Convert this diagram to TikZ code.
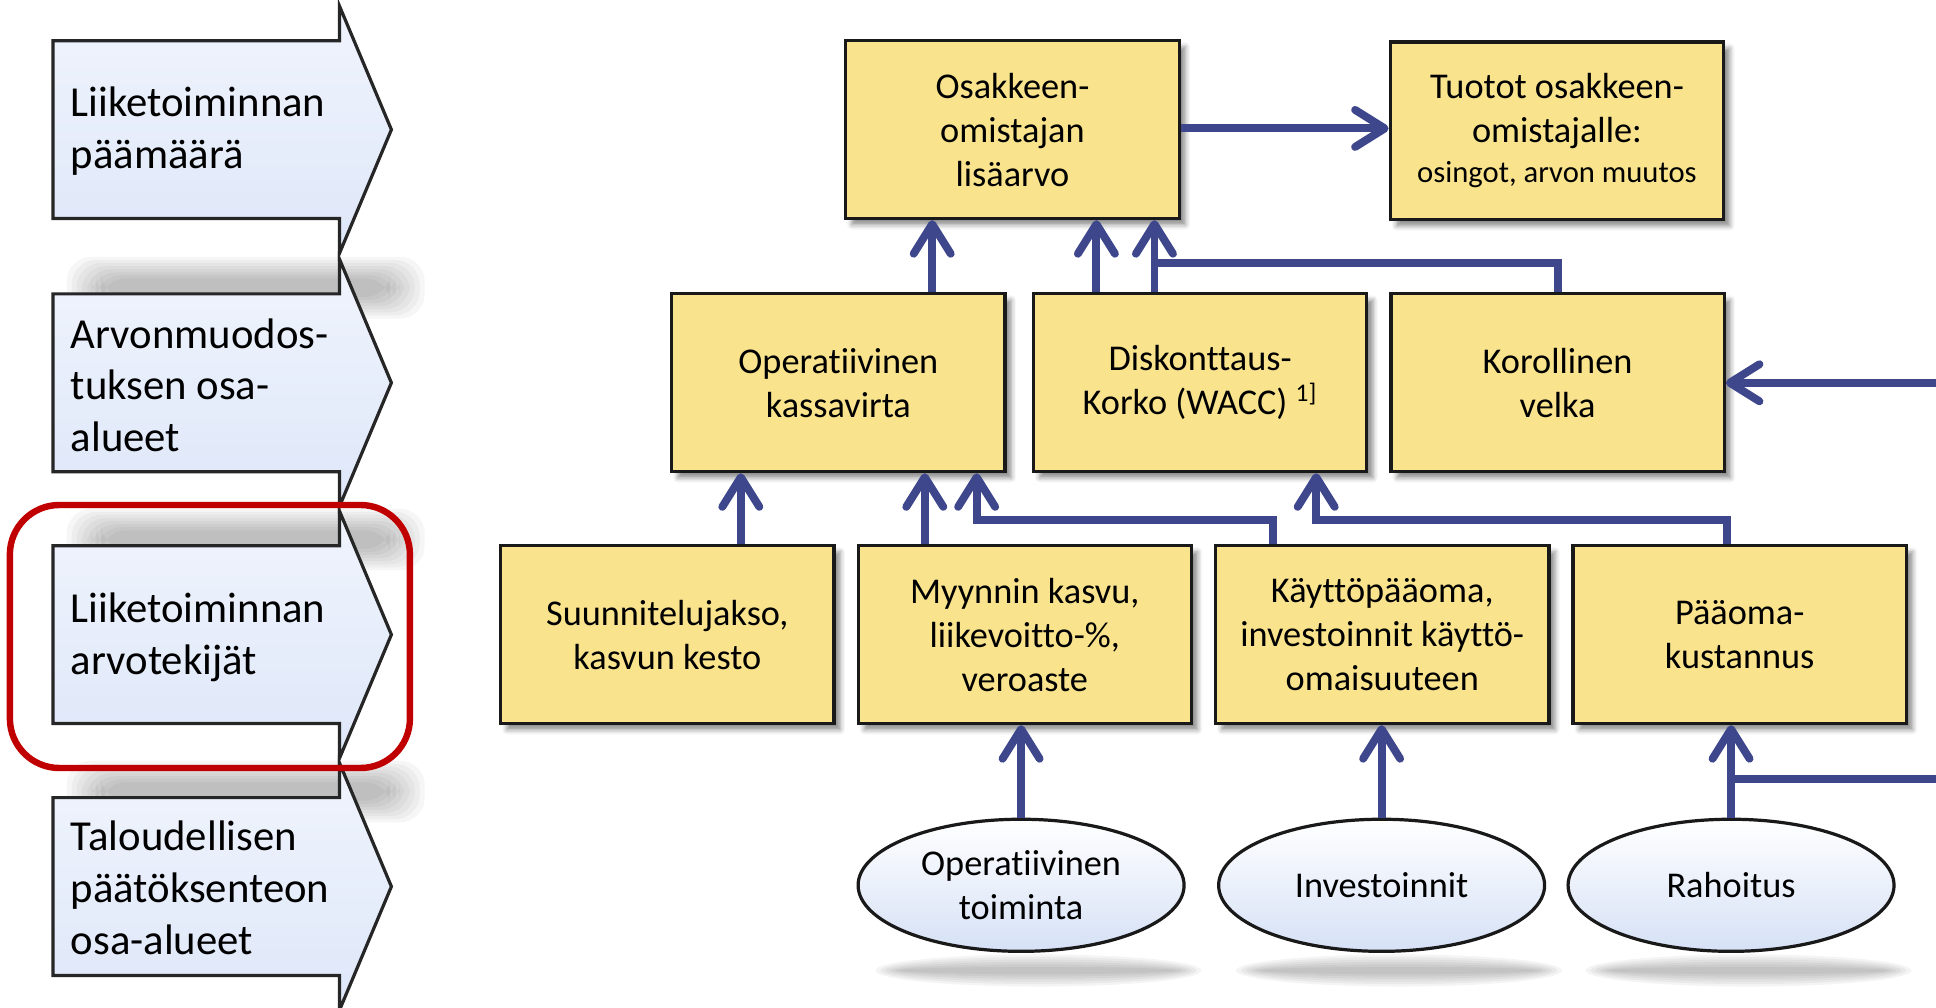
\documentclass[tikz,border=0pt]{standalone}
\usepackage{fontspec}
\setmainfont{Carlito}[Ligatures=NoCommon]
\usetikzlibrary{arrows.meta, shapes.geometric, shadows.blur}

\definecolor{flowblue}{RGB}{63,71,140}
\definecolor{boxyellow}{RGB}{249,228,141}
\definecolor{tagblue}{RGB}{222,231,249}
\definecolor{ovalblue}{RGB}{214,225,246}
\definecolor{markred}{RGB}{192,0,0}

\begin{document}
\begin{tikzpicture}[x=0.5pt, y=-0.5pt,
		>={Straight Barb[length=12pt, width=15pt, round]},
		flow/.style={->, flowblue, line width=3.2pt},
		valuebox/.style={draw=black!90, line width=1.3pt, fill=boxyellow,
			minimum width=135pt, minimum height=72pt, inner sep=2pt, align=center,
			font=\fontsize{14.7}{17.8}\selectfont,
			blur shadow={shadow xshift=2.5pt, shadow yshift=-2.5pt, shadow blur radius=2pt, shadow opacity=45}},
		oval/.style={ellipse, draw=black!90, line width=1.3pt, top color=white, bottom color=ovalblue,
			minimum width=132pt, minimum height=53.5pt, inner sep=0pt, align=center,
			font=\fontsize{14.7}{17.8}\selectfont},
		tag/.style={draw=black!85, line width=1.3pt, top color=tagblue!45!white, bottom color=tagblue},
		tagtext/.style={anchor=west, inner sep=0pt, align=left, font=\fontsize{17.3}{21}\selectfont}]
		%\draw [help lines, step=100] (0,0) grid (1568,816);
		\useasboundingbox (0,0) rectangle (1568,815.6);
		\clip (0,0) rectangle (1568,815.6);

		% shadows behind the arrows and the ovals
		\foreach \cy in {310,514,718}
			\foreach \k in {0,...,7}
				\fill[black, opacity=0.035, rounded corners=10pt] (54+4*\k,\cy-102+2.5*\k) rectangle (344-4*\k,\cy-52-2.5*\k);
		\foreach \ex in {827,1119,1402}
			\foreach \k in {0,...,5}
				\fill[black, opacity=0.045] (\ex+14,786) ellipse [x radius=132-4*\k, y radius=13-2*\k];

		% left arrows
		\foreach \cy in {105,310,514,718}
			\draw[tag] (43,\cy-72) -- (275,\cy-72) -- (275,\cy-100) -- (317,\cy) -- (275,\cy+100) -- (275,\cy+72) -- (43,\cy+72) -- cycle;
		\node[tagtext] (goal) at (57,106) {Liiketoiminnan\\päämäärä};
		\node[tagtext] (areas) at (57,312) {Arvonmuodos-\\tuksen osa-\\alueet};
		\node[tagtext] (drivers) at (57,516) {Liiketoiminnan\\arvotekijät};
		\node[tagtext] (decision) at (57,719) {Taloudellisen\\päätöksenteon\\osa-alueet};
		\draw[markred, line width=2.6pt, rounded corners=20pt] (8,409) rectangle (332,622);

		% value tree
		\node[valuebox] (osak) at (820,105) {Osakkeen-\\omistajan\\lisäarvo};
		\node[valuebox] (tuotot) at (1261,106) {Tuotot osakkeen-\\omistajalle:\\[-1.5pt]{\fontsize{12.4}{15}\selectfont osingot, arvon muutos}};
		\node[valuebox] (opkv) at (679,310) {Operatiivinen\\kassavirta};
		\node[valuebox] (disk) at (972,310) {Diskonttaus-\\Korko (WACC) \textsuperscript{1]}};
		\node[valuebox] (korv) at (1261.5,310) {Korollinen\\velka};
		\node[valuebox] (suun) at (540.5,514) {Suunnitelujakso,\\kasvun kesto};
		\node[valuebox] (myyn) at (830,514) {Myynnin kasvu,\\liikevoitto-\%,\\veroaste};
		\node[valuebox] (kayt) at (1119.5,514) {Käyttöpääoma,\\investoinnit käyttö-\\omaisuuteen};
		\node[valuebox] (paak) at (1409,514) {Pääoma-\\kustannus};
		\node[oval] (optoim) at (827,717) {Operatiivinen\\toiminta};
		\node[oval] (inv) at (1119,717) {Investoinnit};
		\node[oval] (rah) at (1402,717) {Rahoitus};

		\coordinate (kjoin) at (935,213);
		\coordinate (offright) at (1600,0);
		\draw[flow] (osak.east |- 0,104) -- (tuotot.west |- 0,104);
		\draw[flow] (755,0 |- opkv.north) -- (755,0 |- osak.south);
		\draw[flow] (888,0 |- disk.north) -- (888,0 |- osak.south);
		\draw[flowblue, line width=3.2pt] (935,0 |- disk.north) -- (kjoin);
		\draw[flow] (korv.north) -- (korv.north |- kjoin) -- (kjoin) -- (kjoin |- osak.south);
		\draw[flow] (600,0 |- suun.north) -- (600,0 |- opkv.south);
		\draw[flow] (749,0 |- myyn.north) -- (749,0 |- opkv.south);
		\draw[flow] (1031,0 |- kayt.north) -- (1031,421) -- (791,421) -- (791,0 |- opkv.south);
		\draw[flow] (1399,0 |- paak.north) -- (1399,421) -- (1066,421) -- (1066,0 |- disk.south);
		\draw[flow] (optoim.north) -- (optoim.north |- myyn.south);
		\draw[flow] (inv.north) -- (inv.north |- kayt.south);
		\draw[flow] (rah.north) -- (rah.north |- paak.south);
		\draw[flow] (rah.north |- 0,631) -- (offright |- 0,631) -- (offright |- korv.east) -- (korv.east);
	\end{tikzpicture}
\end{document}
